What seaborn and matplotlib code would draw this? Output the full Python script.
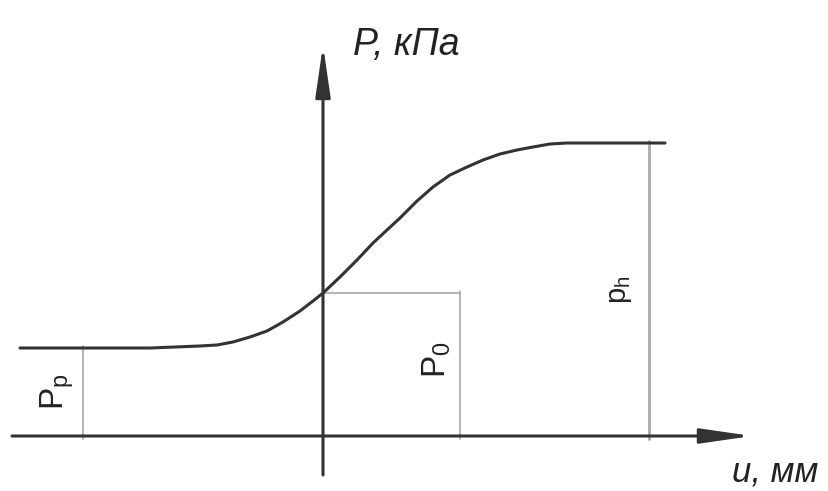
import matplotlib
matplotlib.use("Agg")
import matplotlib.pyplot as plt
import seaborn as sns

# pressure vs displacement curve (u in mm-units, P in kPa-units, schematic)
u_curve = [-3.03, -1.73, -1.23, -1.06, -0.90, -0.73, -0.56, -0.40, -0.23, -0.10,
           0.00, 0.17, 0.34, 0.50, 0.64, 0.77, 0.94, 1.10, 1.27, 1.44,
           1.60, 1.77, 1.94, 2.10, 2.27, 2.44, 2.77, 3.42]
p_curve = [0.88, 0.88, 0.90, 0.91, 0.94, 0.99, 1.05, 1.14, 1.25, 1.35,
           1.43, 1.59, 1.76, 1.93, 2.06, 2.18, 2.35, 2.49, 2.61, 2.69,
           2.76, 2.82, 2.86, 2.89, 2.92, 2.93, 2.93, 2.93]

# characteristic levels and where they are marked on the u axis
level_names = ["P_p", "P_0", "p_h"]
level_values = [0.88, 1.43, 2.93]
level_u = [-2.40, 1.37, 3.26]

axis_labels = ["P, кПа", "u, мм"]

sns.set_style("white")
plt.rcParams["font.family"] = ["Liberation Sans", "DejaVu Sans"]
plt.rcParams["mathtext.fontset"] = "custom"
plt.rcParams["mathtext.rm"] = "Liberation Sans"

fig = plt.figure(figsize=(8.29, 4.91), dpi=100)
ax = fig.add_axes([0, 0, 1, 1])
ax.set_xlim(-3.23, 5.06)
ax.set_ylim(-0.55, 4.36)
ax.axis("off")

dark = "#333333"
thin = "#a8a8a8"

# the curve
sns.lineplot(x=u_curve, y=p_curve, ax=ax, color=dark, lw=2.2,
             estimator=None, sort=False)

# coordinate axes with arrows
arrow = dict(arrowstyle="-|>,head_length=3.1,head_width=0.45",
             mutation_scale=10, lw=2.2, color=dark, shrinkA=0, shrinkB=0)
ax.annotate("", xy=(4.29, 0), xytext=(-3.11, 0), arrowprops=arrow)
ax.annotate("", xy=(0, 3.91), xytext=(0, -0.39), arrowprops=arrow)

# dimension lines
for name, val, u in zip(level_names, level_values, level_u):
    lw = 2.0 if name == "p_h" else 1.2
    ax.plot([u, u], [-0.03, val + 0.02], color=thin, lw=lw, zorder=1)
ax.plot([0, level_u[1]], [level_values[1], level_values[1]], color=thin, lw=1.2, zorder=1)

# level labels
ax.text(level_u[0] - 0.26, level_values[0] / 2, r"$\mathregular{P_p}$",
        rotation=90, ha="center", va="center", fontsize=24, color="#222222")
ax.text(level_u[1] - 0.23, level_values[1] / 2 + 0.05, r"$\mathregular{P_0}$",
        rotation=90, ha="center", va="center", fontsize=24, color="#222222")
ax.text(level_u[2] - 0.29, level_values[2] / 2, r"$\mathregular{p_h}$",
        rotation=90, ha="center", va="center", fontsize=21, color="#222222")

# axis titles
ax.text(0.30, 3.91, axis_labels[0], ha="left", va="center",
        fontsize=27, style="italic", color="#222222")
ax.text(4.09, -0.36, axis_labels[1], ha="left", va="center",
        fontsize=25, style="italic", color="#222222")

fig.savefig("out.png", dpi=100)
